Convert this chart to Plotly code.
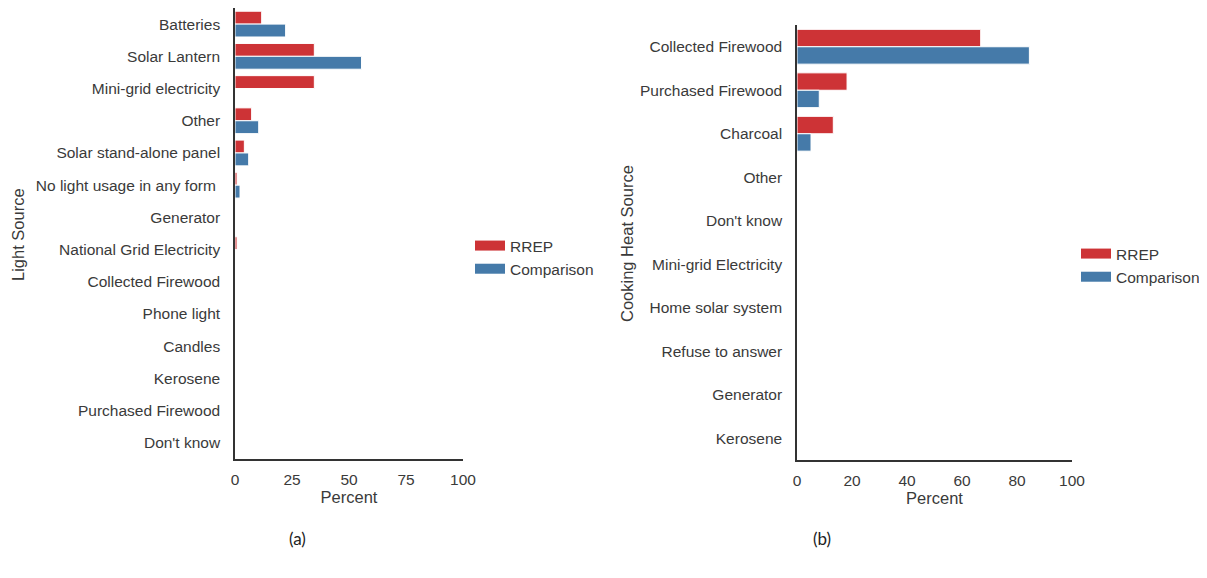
import plotly.graph_objects as go

# ---- data ----
light_sources = ["Batteries", "Solar Lantern", "Mini-grid electricity", "Other",
                 "Solar stand-alone panel", "No light usage in any form ", "Generator",
                 "National Grid Electricity", "Collected Firewood", "Phone light",
                 "Candles", "Kerosene", "Purchased Firewood", "Don't know"]
light_rrep = [11.7, 34.8, 34.8, 7.3, 4.1, 0.9, 0, 0.9, 0, 0, 0, 0, 0, 0]
light_comp = [22.2, 55.5, 0, 10.4, 6.0, 2.2, 0, 0, 0, 0, 0, 0, 0, 0]

heat_sources = ["Collected Firewood", "Purchased Firewood", "Charcoal", "Other",
                "Don't know", "Mini-grid Electricity", "Home solar system",
                "Refuse to answer", "Generator", "Kerosene"]
heat_rrep = [66.8, 18.2, 13.2, 0, 0, 0, 0, 0, 0, 0]
heat_comp = [84.5, 8.1, 5.1, 0, 0, 0, 0, 0, 0, 0]

left_xticks = [0, 25, 50, 75, 100]
right_xticks = [0, 20, 40, 60, 80, 100]
series_names = ["RREP", "Comparison"]

RED = "#CD3336"
BLUE = "#457AA9"
TXT = "#3a3a3a"
AX = "#333333"
FONT = "Liberation Sans, Arial, sans-serif"
W, H = 1207, 578
OFF = 8  # page body margin offset

fig = go.Figure()

def add_bars(cats, vals, color, name, xa, ya):
    fig.add_trace(go.Bar(y=cats, x=vals, orientation="h", name=name,
                         marker=dict(color=color, line=dict(color="white", width=1)),
                         xaxis=xa, yaxis=ya, showlegend=False))

add_bars(light_sources, light_rrep, RED, series_names[0], "x", "y")
add_bars(light_sources, light_comp, BLUE, series_names[1], "x", "y")
add_bars(heat_sources, heat_rrep, RED, series_names[0], "x2", "y2")
add_bars(heat_sources, heat_comp, BLUE, series_names[1], "x2", "y2")

# legend entries (wide swatches like the original)
for lg in ["legend", "legend2"]:
    for nm, col in zip(series_names, [RED, BLUE]):
        fig.add_trace(go.Scatter(x=[None], y=[None], mode="lines", name=nm,
                                 line=dict(color=col, width=10), legend=lg,
                                 xaxis="x" if lg == "legend" else "x2",
                                 yaxis="y" if lg == "legend" else "y2"))

def px_x(p):
    return (p - OFF) / W

def px_y(p):
    return 1 - (p - OFF) / H

TF = 15.5
TITLE_F = 16.5
common_x = dict(showgrid=False, zeroline=False, showline=True, linecolor=AX, linewidth=1.5,
                ticks="outside", ticklen=6, tickcolor="rgba(0,0,0,0)",
                tickfont=dict(size=TF, color=TXT, family=FONT), range=[0, 100],
                title=dict(text="Percent", font=dict(size=TITLE_F, color=TXT, family=FONT), standoff=2),
                automargin=False)
common_y = dict(showgrid=False, zeroline=False, showline=True, linecolor=AX, linewidth=1.5,
                ticks="outside", ticklen=10, tickcolor="rgba(0,0,0,0)",
                tickfont=dict(size=TF, color=TXT, family=FONT), automargin=False)

fig.update_layout(
    width=W, height=H,
    margin=dict(l=0, r=0, t=0, b=0),
    paper_bgcolor="white", plot_bgcolor="white",
    barmode="group", bargap=0.2, bargroupgap=0,
    font=dict(family=FONT, color=TXT, size=TF),
    xaxis=dict(domain=[px_x(235), px_x(463)], anchor="y", tickvals=left_xticks, **common_x),
    yaxis=dict(domain=[px_y(459), px_y(8)], anchor="x", categoryorder="array",
               categoryarray=light_sources, range=[len(light_sources) - 0.5, -0.5],
               **common_y),
    xaxis2=dict(domain=[px_x(797), px_x(1072)], anchor="y2", tickvals=right_xticks, **common_x),
    yaxis2=dict(domain=[px_y(460), px_y(25)], anchor="x2", categoryorder="array",
                categoryarray=heat_sources, range=[len(heat_sources) - 0.5, -0.5],
                **common_y),
    legend=dict(x=px_x(470), y=px_y(229), xanchor="left", yanchor="top",
                font=dict(size=TF, color=TXT, family=FONT), itemwidth=30,
                bgcolor="rgba(0,0,0,0)", tracegroupgap=0),
    legend2=dict(x=px_x(1076), y=px_y(237), xanchor="left", yanchor="top",
                 font=dict(size=TF, color=TXT, family=FONT), itemwidth=30,
                 bgcolor="rgba(0,0,0,0)", tracegroupgap=0),
    annotations=[
        dict(text="Light Source", x=px_x(18), y=px_y(235), xref="paper", yref="paper",
             xanchor="center", yanchor="middle", textangle=-90, showarrow=False,
             font=dict(size=TITLE_F, color=TXT, family=FONT)),
        dict(text="Cooking Heat Source", x=px_x(627), y=px_y(244), xref="paper", yref="paper",
             xanchor="center", yanchor="middle", textangle=-90, showarrow=False,
             font=dict(size=TITLE_F, color=TXT, family=FONT)),
        dict(text="(a)", x=px_x(297), y=px_y(538), xref="paper", yref="paper",
             xanchor="center", yanchor="middle",
             showarrow=False, font=dict(size=17, color="#222", family="Lato, Carlito, sans-serif")),
        dict(text="(b)", x=px_x(822), y=px_y(538), xref="paper", yref="paper",
             xanchor="center", yanchor="middle",
             showarrow=False, font=dict(size=17, color="#222", family="Lato, Carlito, sans-serif")),
    ],
)

fig.write_html("out.html")
